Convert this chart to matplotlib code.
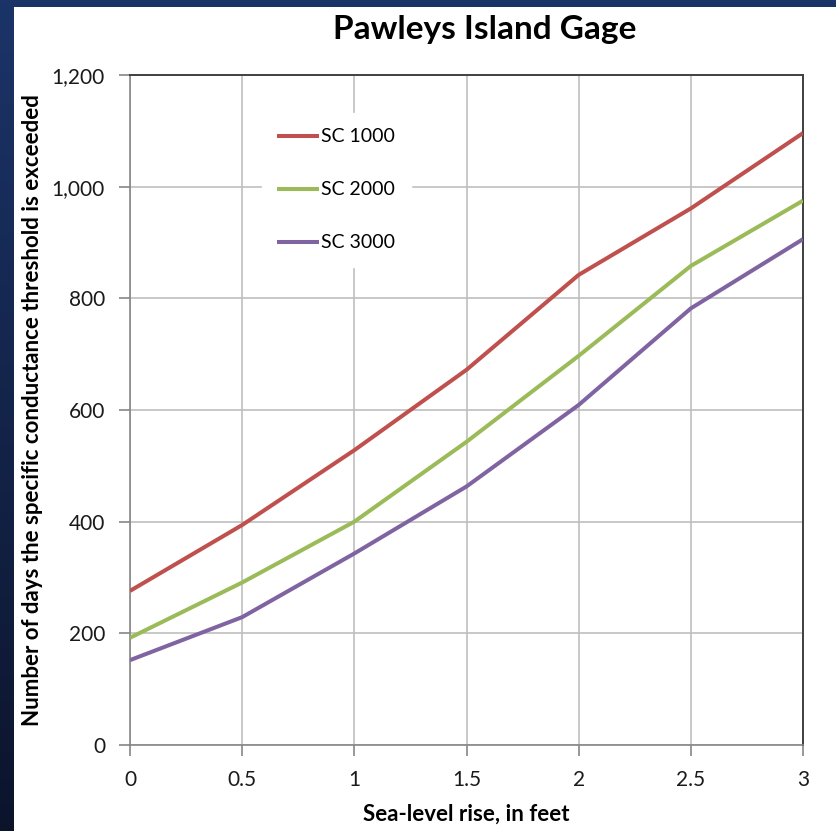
import matplotlib
matplotlib.use("Agg")
import matplotlib.pyplot as plt
import numpy as np
from matplotlib.patches import Rectangle
from matplotlib.ticker import FuncFormatter

plt.rcParams['font.family'] = ['Lato', 'DejaVu Sans']

# sea-level rise (feet) and days exceeded for each conductance threshold
slr = [0, 0.5, 1, 1.5, 2, 2.5, 3]
sc1000 = [276, 394, 528, 672, 842, 961, 1096]
sc2000 = [192, 291, 400, 543, 697, 858, 975]
sc3000 = [152, 229, 343, 463, 609, 782, 906]
series_names = ['SC 1000', 'SC 2000', 'SC 3000']
series_colors = ['#C0504D', '#9BBB59', '#8064A2']

W, H = 836, 831
fig = plt.figure(figsize=(W / 100, H / 100), dpi=100)

# dark slide background with a vertical gradient
bg = fig.add_axes([0, 0, 1, 1], zorder=-2)
grad = np.linspace(0, 1, 256).reshape(-1, 1)
top = np.array([0x1b, 0x34, 0x68]) / 255
bot = np.array([0x0c, 0x14, 0x2c]) / 255
img = top[None, None, :] * (1 - grad[:, :, None]) + bot[None, None, :] * grad[:, :, None]
bg.imshow(img, aspect='auto', extent=[0, 1, 0, 1])
bg.axis('off')
fig.add_artist(Rectangle((14 / W, 0), 1 - 14 / W, 1 - 7 / H, transform=fig.transFigure,
                         facecolor='white', edgecolor='none', zorder=-1))

ax = fig.add_axes([130 / W, 1 - 745 / H, 673 / W, 670 / H])
for ys, name, c in zip([sc1000, sc2000, sc3000], series_names, series_colors):
    ax.plot(slr, ys, color=c, lw=2.9, label=name, solid_capstyle='butt', zorder=3)

ax.set_xlim(0, 3)
ax.set_ylim(0, 1200)
ax.set_xticks(np.arange(0, 3.01, 0.5))
ax.set_yticks(np.arange(0, 1201, 200))
ax.xaxis.set_major_formatter(FuncFormatter(lambda v, p: f'{v:g}'))
ax.yaxis.set_major_formatter(FuncFormatter(lambda v, p: f'{int(v):,}'))
ax.grid(True, color='#BFBFBF', lw=1.2)
ax.set_axisbelow(True)
ax.tick_params(direction='out', length=8, width=1.2, color='#868686',
               labelsize=15, labelcolor='#1a1a1a', pad=10)
for s in ['left', 'bottom']:
    ax.spines[s].set_color('#868686')
    ax.spines[s].set_linewidth(1.2)
for s in ['top', 'right']:
    ax.spines[s].set_color('#404040')
    ax.spines[s].set_linewidth(1.4)

fig.text(485 / W, 1 - 30 / H, 'Pawleys Island Gage', fontsize=24, fontweight='bold',
         ha='center', va='center')
ax.set_xlabel('Sea-level rise, in feet', fontsize=16, fontweight='bold', labelpad=10)
ax.set_ylabel('Number of days the specific conductance threshold is exceeded',
              fontsize=16, fontweight='bold', labelpad=6)

leg = ax.legend(loc='upper left', bbox_to_anchor=(0.181, 0.958), frameon=True,
                fontsize=14, handlelength=2.15, handletextpad=0.12,
                labelspacing=1.85, borderpad=0.8, fancybox=False)
leg.get_frame().set_edgecolor('white')
leg.get_frame().set_facecolor('white')
leg.get_frame().set_alpha(1)

fig.savefig('out.png', dpi=100)
